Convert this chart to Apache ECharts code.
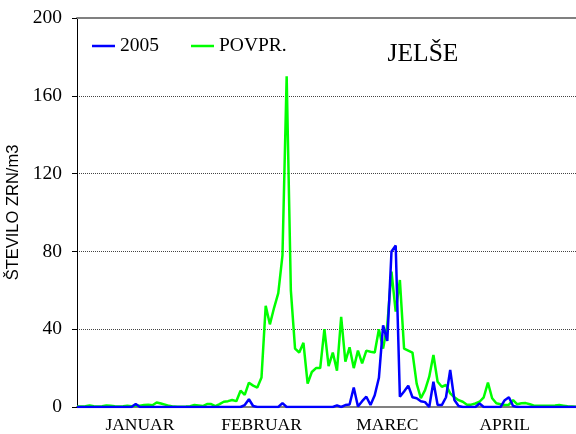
<!DOCTYPE html>
<html>
<head>
<meta charset="utf-8">
<script src="https://cdn.jsdelivr.net/npm/echarts@6/dist/echarts.min.js"></script>
<style>
  html, body { margin: 0; padding: 0; background: #ffffff; }
  #chart { width: 576px; height: 434px; }
</style>
</head>
<body>
<div id="chart"></div>
<script>
// Daily pollen counts (grains per m3), 1 January – 30 April
const seriesNames = ['2005', 'POVPR.'];

const values2005 = [
  0, 0, 0, 0, 0, 0, 0, 0, 0, 0,
  0, 0, 0, 0, 1.5, 0, 0, 0, 0, 0,
  0, 0, 0, 0, 0, 0, 0, 0, 0, 0,
  0, 0, 0, 0, 0, 0, 0, 0, 0, 0,
  1, 4, 0.5, 0, 0, 0, 0, 0, 0, 2,
  0, 0, 0, 0, 0, 0, 0, 0, 0, 0,
  0, 0, 0.8, 0, 1, 1.3, 10, 0.3, 3, 5.3,
  1, 6, 15, 42, 34, 80, 83, 5.3, 8, 11,
  5, 4.5, 3, 2.5, 0, 13, 1, 1, 5, 19,
  3.6, 0.5, 0, 0, 0, 0, 1.8, 0, 0, 0,
  0, 0, 3.5, 5, 0.5, 0, 0, 0, 0, 0,
  0, 0, 0, 0, 0, 0, 0, 0, 0, 0
];

const valuesAverage = [
  0.2, 0.3, 0.4, 0.8, 0.4, 0.2, 0.4, 0.8, 0.6, 0.4,
  0.3, 0.4, 0.6, 0.4, 0.8, 0.6, 1.0, 1.2, 0.9, 2.3,
  1.8, 1.2, 0.6, 0.2, 0.1, 0.1, 0.2, 0.4, 1.0, 0.8,
  0.5, 1.5, 1.5, 0.5, 1.5, 2.7, 3.0, 3.6, 3.0, 8.4,
  6.2, 12.5, 11, 10, 15.2, 52, 42.5, 51, 58.5, 78,
  170, 60, 30, 28, 33, 12, 18, 20, 20, 40,
  21, 28, 18.7, 46.4, 23.3, 30.7, 20, 29, 22.4, 29,
  28.4, 28, 40, 30, 42, 69.6, 49, 65.3, 30, 29,
  28, 12, 4.5, 8.7, 15.6, 26.7, 13, 10.4, 11.3, 7,
  5, 3.5, 2.7, 1.2, 1.2, 1.8, 2.7, 5, 12.5, 4.5,
  1.9, 1.4, 1, 1.2, 3.5, 1.4, 1.9, 2.0, 1.4, 0.7,
  0.6, 0.6, 0.6, 0.7, 0.8, 1.0, 0.7, 0.4, 0.3, 0.1
];

// Month names on the horizontal axis and the days they sit under
const monthNames = ['JANUAR', 'FEBRUAR', 'MAREC', 'APRIL'];
const monthLabelDays = ['2005-01-16', '2005-02-14', '2005-03-16', '2005-04-13'];

const yTicks = { min: 0, max: 200, step: 40 };

// One category per day of the season
const days = [];
for (let d = new Date(Date.UTC(2005, 0, 1)); d <= new Date(Date.UTC(2005, 3, 30)); d.setUTCDate(d.getUTCDate() + 1)) {
  days.push(d.toISOString().slice(0, 10));
}

const serif = 'Liberation Serif';
const sans = 'Liberation Sans';

const chart = echarts.init(document.getElementById('chart'), null, { renderer: 'canvas' });
chart.setOption({
  animation: false,
  backgroundColor: '#ffffff',
  grid: { left: 77, right: 0, top: 18, bottom: 27, containLabel: false, outerBoundsMode: 'none' },
  title: {
    text: 'JELŠE',
    left: 418,
    top: 35,
    textAlign: 'center',
    textStyle: { fontFamily: serif, fontSize: 25.5, fontWeight: 'normal', color: '#000', lineHeight: 28 }
  },
  legend: {
    data: seriesNames,
    left: 92,
    top: 36,
    padding: 0,
    icon: 'rect',
    itemWidth: 23,
    itemHeight: 2.5,
    itemGap: 32,
    textStyle: { fontFamily: serif, fontSize: 19.5, color: '#000', padding: [0, 0, 0, 0] }
  },
  xAxis: [
    {
      type: 'category',
      data: days,
      boundaryGap: false,
      axisLine: { show: true, lineStyle: { color: '#808080', width: 2 } },
      axisTick: { show: false },
      splitLine: { show: false },
      axisLabel: {
        interval: 0,
        hideOverlap: false,
        formatter: (val) => {
          const k = monthLabelDays.indexOf(val);
          return k >= 0 ? monthNames[k] : '';
        },
        fontFamily: serif,
        fontSize: 17.5,
        color: '#000',
        margin: 9
      }
    },
    {
      type: 'category',
      data: days,
      boundaryGap: false,
      position: 'top',
      axisLine: { show: true, lineStyle: { color: '#808080', width: 2 } },
      axisTick: { show: false },
      axisLabel: { show: false },
      splitLine: { show: false }
    }
  ],
  yAxis: {
    type: 'value',
    min: yTicks.min,
    max: yTicks.max,
    interval: yTicks.step,
    name: 'ŠTEVILO ZRN/m3',
    nameLocation: 'middle',
    nameRotate: 90,
    nameGap: 52,
    nameTextStyle: { fontFamily: sans, fontSize: 16.5, color: '#000' },
    axisLine: { show: true, lineStyle: { color: '#000', width: 1 } },
    axisTick: { show: true, inside: false, length: 5, lineStyle: { color: '#000', width: 1 } },
    axisLabel: { fontFamily: serif, fontSize: 19.5, color: '#000', margin: 15 },
    splitLine: { show: true, lineStyle: { color: '#444', width: 1, type: [1, 1] } }
  },
  series: [
    {
      name: seriesNames[0],
      type: 'line',
      data: values2005,
      symbol: 'none',
      lineStyle: { color: '#0000ff', width: 2.5 },
      itemStyle: { color: '#0000ff' },
      z: 3
    },
    {
      name: seriesNames[1],
      type: 'line',
      data: valuesAverage,
      symbol: 'none',
      lineStyle: { color: '#00ff00', width: 2.5 },
      itemStyle: { color: '#00ff00' },
      z: 2
    }
  ]
});
</script>
</body>
</html>
